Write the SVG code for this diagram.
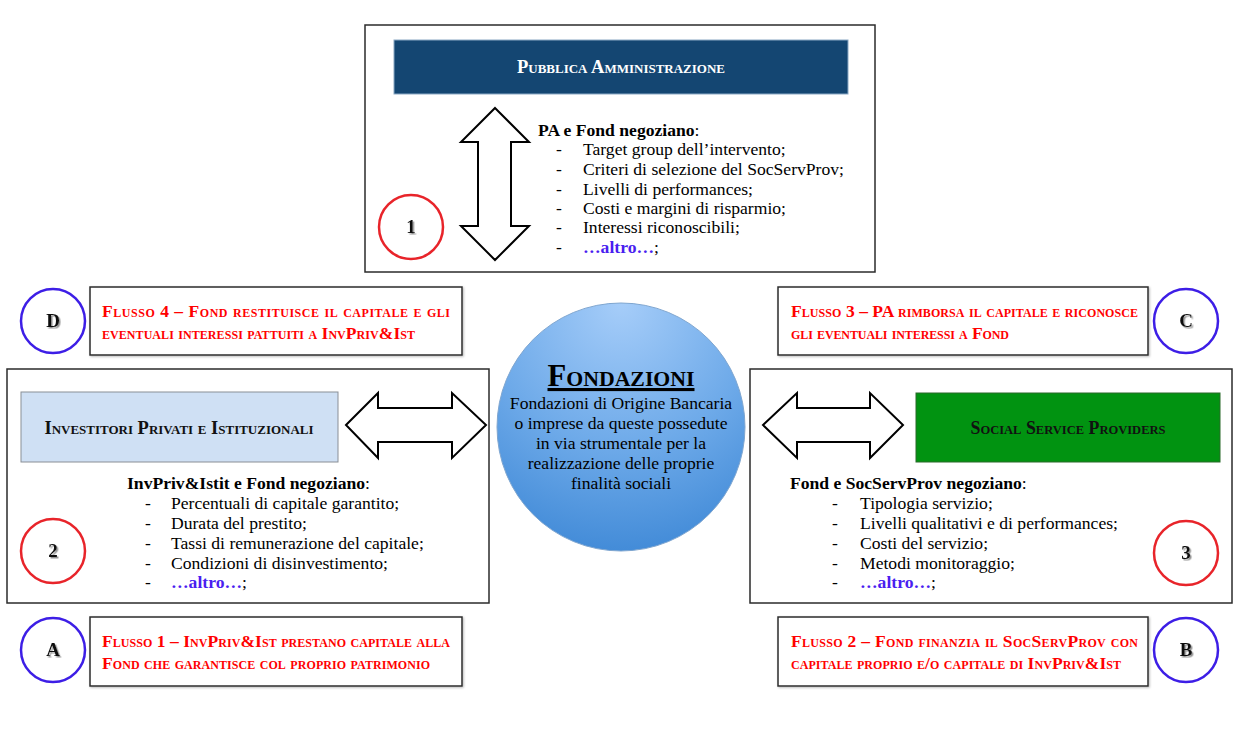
<svg xmlns="http://www.w3.org/2000/svg" width="1239" height="745" viewBox="0 0 1239 745">
<defs>
<radialGradient id="gFond" cx="50%" cy="10%" r="95%" fx="50%" fy="0%">
<stop offset="0" stop-color="#a6cdf9"/>
<stop offset="0.55" stop-color="#6eaae9"/>
<stop offset="1" stop-color="#3e88d6"/>
</radialGradient>
<filter id="sh" x="-20%" y="-20%" width="140%" height="140%">
<feDropShadow dx="1.5" dy="1.5" stdDeviation="0.6" flood-color="#777" flood-opacity="0.8"/>
</filter>
<filter id="bsh" x="-5%" y="-5%" width="110%" height="110%">
<feDropShadow dx="1" dy="1" stdDeviation="1" flood-color="#888" flood-opacity="0.6"/>
</filter>
</defs>
<style>
.box{fill:#fff;stroke:#2b2b2b;stroke-width:1.5}
.arrow{fill:#fff;stroke:#000;stroke-width:2;stroke-linejoin:miter}
.t{font-family:"Liberation Serif","Times New Roman",serif;font-size:17.6px;fill:#000}
.b{font-weight:bold}
.alt{font-weight:bold;fill:#4a1ef0}
.hdr{font-family:"Liberation Serif","Times New Roman",serif;font-size:18.5px;font-weight:bold;font-variant:small-caps;text-anchor:middle}
.flow{font-family:"Liberation Serif","Times New Roman",serif;font-size:17.5px;font-weight:bold;font-variant:small-caps;fill:#ff0000}
.rc{fill:#fff;stroke:#e8242a;stroke-width:2.5}
.bc{fill:#fff;stroke:#3d1ee6;stroke-width:2.5}
.num{font-family:"Liberation Serif","Times New Roman",serif;font-size:19px;font-weight:bold;text-anchor:middle;fill:#111}
</style>

<g id="pa">
<rect class="box" x="365" y="25" width="510" height="247"/>
<rect x="394" y="40" width="454" height="54" fill="#144672" stroke="#8aa8c4" stroke-width="1"/>
<text class="hdr" x="621" y="73" fill="#fff" textLength="208" lengthAdjust="spacingAndGlyphs">Pubblica Amministrazione</text>
<text class="t" x="538" y="136"><tspan class="b">PA e Fond negoziano</tspan>:</text>
<g class="t">
<text x="556" y="155">-</text><text x="583" y="155">Target group dell’intervento;</text>
<text x="556" y="175">-</text><text x="583" y="175">Criteri di selezione del SocServProv;</text>
<text x="556" y="195">-</text><text x="583" y="195">Livelli di performances;</text>
<text x="556" y="214">-</text><text x="583" y="214">Costi e margini di risparmio;</text>
<text x="556" y="233">-</text><text x="583" y="233">Interessi riconoscibili;</text>
<text x="556" y="253">-</text><text x="583" y="253"><tspan class="alt">…altro…</tspan>;</text>
</g>
</g>

<g id="n1">
<circle class="rc" cx="411" cy="227" r="32"/>
<text class="num" x="411" y="233" filter="url(#sh)">1</text>
</g>

<g id="flowD">
<circle class="bc" cx="53" cy="321" r="32"/>
<text class="num" x="53" y="327" filter="url(#sh)">D</text>
<rect class="box" x="90" y="287" width="372" height="68" filter="url(#bsh)"/>
<text class="flow" x="102" y="317" textLength="348" lengthAdjust="spacing">Flusso 4 – Fond restituisce il capitale e gli</text>
<text class="flow" x="102" y="339" textLength="313" lengthAdjust="spacing">eventuali interessi pattuiti a InvPriv&amp;Ist</text>
</g>

<g id="flowC">
<rect class="box" x="778" y="287" width="370" height="68" filter="url(#bsh)"/>
<text class="flow" x="791" y="317" textLength="347" lengthAdjust="spacing">Flusso 3 – PA rimborsa il capitale e riconosce</text>
<text class="flow" x="791" y="339" textLength="218" lengthAdjust="spacing">gli eventuali interessi a Fond</text>
<circle class="bc" cx="1186" cy="321" r="32"/>
<text class="num" x="1186" y="327" filter="url(#sh)">C</text>
</g>

<g id="investitori">
<rect class="box" x="7" y="369" width="482" height="234"/>
<rect x="21" y="392" width="317" height="70" fill="#cfe0f4" stroke="#8a8f96" stroke-width="1"/>
<text class="hdr" x="179" y="434" fill="#111" textLength="269" lengthAdjust="spacingAndGlyphs">Investitori Privati e Istituzionali</text>
<text class="t" x="127" y="489"><tspan class="b">InvPriv&amp;Istit e Fond negoziano</tspan>:</text>
<g class="t">
<text x="145" y="509">-</text><text x="171" y="509">Percentuali di capitale garantito;</text>
<text x="145" y="529">-</text><text x="171" y="529">Durata del prestito;</text>
<text x="145" y="549">-</text><text x="171" y="549">Tassi di remunerazione del capitale;</text>
<text x="145" y="569">-</text><text x="171" y="569">Condizioni di disinvestimento;</text>
<text x="145" y="588">-</text><text x="171" y="588"><tspan class="alt">…altro…</tspan>;</text>
</g>
</g>

<g id="n2">
<circle class="rc" cx="53" cy="551" r="32"/>
<text class="num" x="53" y="557" filter="url(#sh)">2</text>
</g>

<g id="ssp">
<rect class="box" x="750" y="369" width="482" height="234"/>
<rect x="916" y="393" width="304" height="69" fill="#019311" stroke="#2a6a2a" stroke-width="1"/>
<text class="hdr" x="1068" y="434" fill="#111" textLength="195" lengthAdjust="spacingAndGlyphs">Social Service Providers</text>
<text class="t" x="790" y="489"><tspan class="b">Fond e SocServProv negoziano</tspan>:</text>
<g class="t">
<text x="832" y="509">-</text><text x="860" y="509">Tipologia servizio;</text>
<text x="832" y="529">-</text><text x="860" y="529">Livelli qualitativi e di performances;</text>
<text x="832" y="549">-</text><text x="860" y="549">Costi del servizio;</text>
<text x="832" y="569">-</text><text x="860" y="569">Metodi monitoraggio;</text>
<text x="832" y="588">-</text><text x="860" y="588"><tspan class="alt">…altro…</tspan>;</text>
</g>
</g>

<g id="n3">
<circle class="rc" cx="1186" cy="553" r="32"/>
<text class="num" x="1186" y="559" filter="url(#sh)">3</text>
</g>

<g id="connectors">
<path class="arrow" d="M495,108 L529,142 L511,142 L511,226 L529,226 L495,260 L461,226 L478,226 L478,142 L461,142 Z"/>
<path class="arrow" d="M346,425 L378,393 L378,408 L452,408 L452,393 L486,425 L452,458 L452,442 L378,442 L378,458 Z"/>
<path class="arrow" d="M763,425 L797,393 L797,408 L870,408 L870,393 L903,425 L870,458 L870,442 L797,442 L797,458 Z"/>
</g>

<g id="fondazioni">
<circle cx="621" cy="427" r="124" fill="url(#gFond)" stroke="#7fa6d0" stroke-width="1"/>
<text x="621" y="386" text-anchor="middle" font-family="Liberation Serif, Times New Roman, serif" font-size="31" font-weight="bold" font-variant="small-caps" text-decoration="underline" textLength="147" lengthAdjust="spacingAndGlyphs" fill="#000">Fondazioni</text>
<g class="t" text-anchor="middle" font-size="17.5">
<text x="621" y="409">Fondazioni di Origine Bancaria</text>
<text x="621" y="429">o imprese da queste possedute</text>
<text x="621" y="449">in via strumentale per la</text>
<text x="621" y="469">realizzazione delle proprie</text>
<text x="621" y="489">finalità sociali</text>
</g>
</g>

<g id="flowA">
<circle class="bc" cx="53" cy="650" r="32"/>
<text class="num" x="53" y="656" filter="url(#sh)">A</text>
<rect class="box" x="90" y="617" width="372" height="69" filter="url(#bsh)"/>
<text class="flow" x="102" y="647" textLength="348" lengthAdjust="spacing">Flusso 1 – InvPriv&amp;Ist prestano capitale alla</text>
<text class="flow" x="102" y="669" textLength="328" lengthAdjust="spacing">Fond che garantisce col proprio patrimonio</text>
</g>

<g id="flowB">
<rect class="box" x="778" y="617" width="370" height="69" filter="url(#bsh)"/>
<text class="flow" x="791" y="647" textLength="347" lengthAdjust="spacing">Flusso 2 – Fond finanzia il SocServProv con</text>
<text class="flow" x="791" y="669" textLength="330" lengthAdjust="spacing">capitale proprio e/o capitale di InvPriv&amp;Ist</text>
<circle class="bc" cx="1186" cy="650" r="32"/>
<text class="num" x="1186" y="656" filter="url(#sh)">B</text>
</g>
</svg>
